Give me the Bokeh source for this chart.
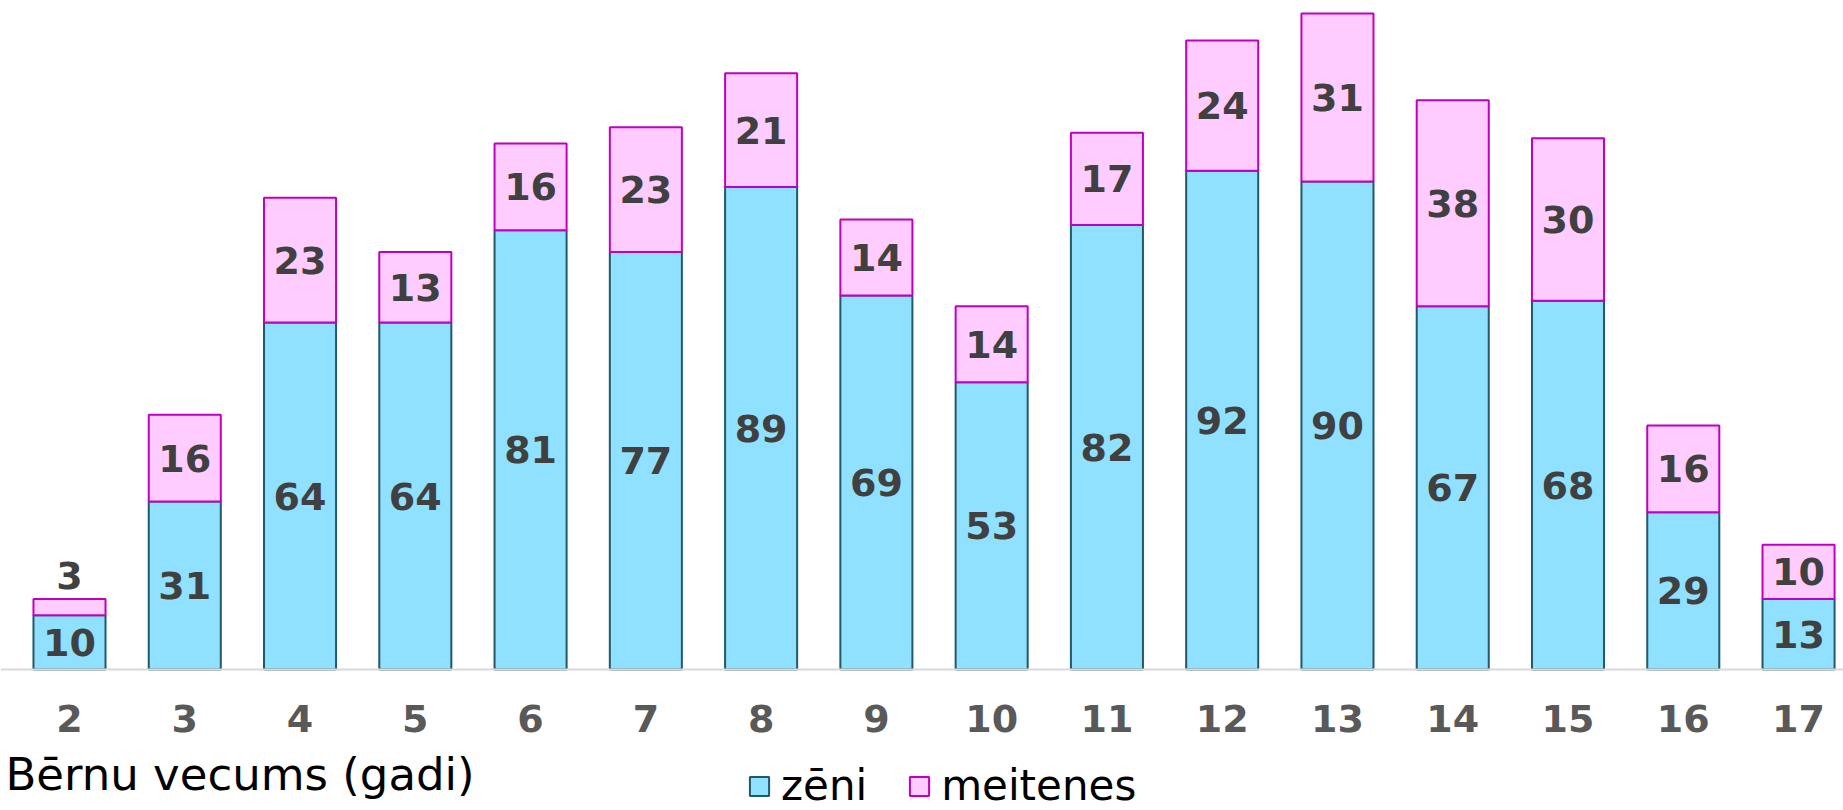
from bokeh.plotting import figure
from bokeh.models import ColumnDataSource, Range1d, FixedTicker, Legend, LegendItem, Label
from bokeh.core.properties import value
from bokeh.embed import file_html
from bokeh.resources import INLINE

# ---- data ----
ages = [2, 3, 4, 5, 6, 7, 8, 9, 10, 11, 12, 13, 14, 15, 16, 17]
zeni = [10, 31, 64, 64, 81, 77, 89, 69, 53, 82, 92, 90, 67, 68, 29, 13]
meitenes = [3, 16, 23, 13, 16, 23, 21, 14, 14, 17, 24, 31, 38, 30, 16, 10]
series_names = ["zēni", "meitenes"]
x_title = "Bērnu vecums (gadi)"

# ---- derived ----
totals = [z + m for z, m in zip(zeni, meitenes)]
zeni_mid = [z / 2 for z in zeni]
meit_mid = [z + m / 2 if m >= 5 else z + m + 4.4 for z, m in zip(zeni, meitenes)]

src = ColumnDataSource(dict(
    age=ages, zeni=zeni, meitenes=meitenes, total=totals,
    zeni_mid=zeni_mid, meit_mid=meit_mid,
    zeni_txt=[str(v) for v in zeni], meit_txt=[str(v) for v in meitenes],
))

FONT = "DejaVu Sans"

p = figure(width=1843, height=810,
           x_range=Range1d(1.4014, 17.39), y_range=Range1d(-26.01, 123.40),
           output_backend="svg", toolbar_location=None,
           min_border_left=0, min_border_right=0, min_border_top=0,
           min_border_bottom=0)

r_z = p.vbar(x="age", width=0.625, bottom=0, top="zeni", source=src,
             fill_color="#8FE1FF", line_color="#215968", line_width=2)
r_m = p.vbar(x="age", width=0.625, bottom="zeni", top="total", source=src,
             fill_color="#FFCCFF", line_color="#C000C0", line_width=2)

lab_kw = dict(text_align="center", text_baseline="middle",
              text_font=value(FONT), text_font_style="bold",
              text_font_size="38px", text_color="#404040", source=src)
p.text(x="age", y="zeni_mid", text="zeni_txt", **lab_kw)
p.text(x="age", y="meit_mid", text="meit_txt", **lab_kw)

p.yaxis.visible = False
p.xgrid.grid_line_color = None
p.ygrid.grid_line_color = None
p.outline_line_color = None

ax = p.xaxis[0]
ax.fixed_location = 0
ax.ticker = FixedTicker(ticks=ages)
ax.major_tick_in = 0
ax.major_tick_out = 0
ax.minor_tick_in = 0
ax.minor_tick_out = 0
ax.axis_line_color = "#D9D9D9"
ax.axis_line_width = 2
ax.major_label_text_font = FONT
ax.major_label_text_font_size = "38px"
ax.major_label_text_font_style = "bold"
ax.major_label_text_color = "#595959"
ax.major_label_standoff = 36

title = Label(x=5, y=36, x_units="screen", y_units="screen", text=x_title,
              text_font=FONT, text_font_size="45px", text_color="#000000",
              text_align="left", text_baseline="alphabetic")
p.add_layout(title)

legend = Legend(items=[LegendItem(label=series_names[0], renderers=[r_z]),
                       LegendItem(label=series_names[1], renderers=[r_m])],
                location=(747, 0), orientation="horizontal",
                border_line_alpha=0, background_fill_alpha=0,
                padding=0, margin=0, spacing=40,
                glyph_width=24, glyph_height=24, label_standoff=10,
                label_text_font=FONT, label_text_font_size="42px",
                label_text_color="#000000")
p.add_layout(legend)

open("out.html", "w").write(file_html(p, INLINE))
